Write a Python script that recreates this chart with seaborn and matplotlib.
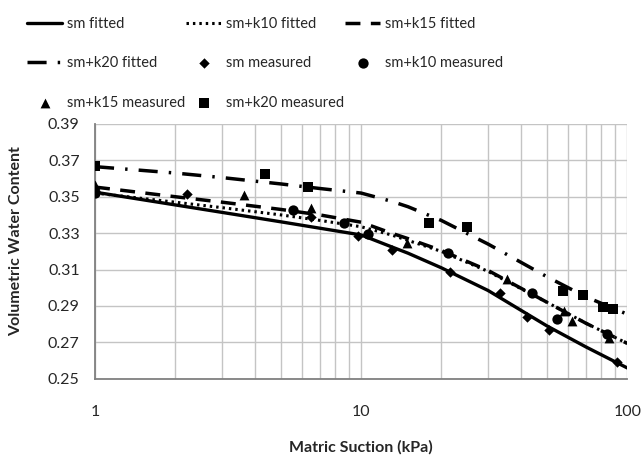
import matplotlib
matplotlib.use("Agg")
import matplotlib.pyplot as plt
import seaborn as sns
import numpy as np

# fitted curves
fit_x = [1, 2, 3, 5, 7, 10, 13, 15, 20, 30, 50, 70, 100]
sm_fit = [0.3525, 0.3455, 0.3414, 0.3362, 0.3327, 0.3290, 0.3225, 0.3190, 0.3110, 0.2985, 0.2790, 0.2675, 0.2560]
k10_fit = [0.3520, 0.3470, 0.3440, 0.3400, 0.3370, 0.3335, 0.3290, 0.3260, 0.3200, 0.3090, 0.2920, 0.2805, 0.2695]
k15_fit = [0.3553, 0.3500, 0.3470, 0.3430, 0.3400, 0.3360, 0.3300, 0.3270, 0.3205, 0.3095, 0.2920, 0.2805, 0.2695]
k20_fit = [0.3665, 0.3630, 0.3605, 0.3570, 0.3545, 0.3520, 0.3475, 0.3445, 0.3370, 0.3240, 0.3060, 0.2950, 0.2855]

# measured points
sm_x = [1, 2.22, 6.5, 9.7, 13.1, 21.6, 33.3, 42, 50.9, 91.7]
sm_y = [0.353, 0.3514, 0.339, 0.3285, 0.321, 0.3084, 0.2969, 0.2837, 0.2770, 0.2595]
k10_x = [1, 5.55, 8.63, 10.6, 21.2, 44, 54.6, 84]
k10_y = [0.352, 0.3426, 0.3355, 0.3294, 0.3189, 0.2969, 0.2826, 0.2748]
k15_x = [1, 3.63, 6.49, 14.9, 35.4, 58, 62, 85.6]
k15_y = [0.3564, 0.3509, 0.3437, 0.3244, 0.3046, 0.2870, 0.2815, 0.2726]
k20_x = [1, 4.36, 6.32, 18.0, 25, 57.5, 68.3, 81, 88.6]
k20_y = [0.3669, 0.3625, 0.3553, 0.3355, 0.3332, 0.2980, 0.2958, 0.2897, 0.2886]

y_ticks = [0.25, 0.27, 0.29, 0.31, 0.33, 0.35, 0.37, 0.39]

sns.set_style("white")
plt.rcParams["font.family"] = ["Lato", "DejaVu Sans"]
plt.rcParams["font.size"] = 11

fig, ax = plt.subplots(figsize=(6.42, 4.57), dpi=100)
fig.subplots_adjust(left=0.148, right=0.977, top=0.729, bottom=0.171)

sns.lineplot(x=fit_x, y=sm_fit, ax=ax, color="black", lw=2.4, label="sm fitted")
sns.lineplot(x=fit_x, y=k10_fit, ax=ax, color="black", lw=2.2,
             linestyle=(0, (0.8, 1.3)), label="sm+k10 fitted")
sns.lineplot(x=fit_x, y=k15_fit, ax=ax, color="black", lw=2.5,
             linestyle=(0, (4.3, 3.0)), label="sm+k15 fitted")
sns.lineplot(x=fit_x, y=k20_fit, ax=ax, color="black", lw=2.5,
             linestyle=(0, (5.5, 3.2, 0.7, 3.2)), label="sm+k20 fitted")

sns.scatterplot(x=sm_x, y=sm_y, ax=ax, color="black", marker="D", s=28,
                edgecolor="black", linewidth=0, label="sm measured", zorder=5)
sns.scatterplot(x=k10_x, y=k10_y, ax=ax, color="black", marker="o", s=55,
                edgecolor="black", linewidth=0, label="sm+k10 measured", zorder=5)
sns.scatterplot(x=k15_x, y=k15_y, ax=ax, color="black", marker="^", s=50,
                edgecolor="black", linewidth=0, label="sm+k15 measured", zorder=5)
sns.scatterplot(x=k20_x, y=k20_y, ax=ax, color="black", marker="s", s=50,
                edgecolor="black", linewidth=0, label="sm+k20 measured", zorder=5)

ax.set_xscale("log")
ax.set_xlim(1, 100)
ax.set_ylim(0.25, 0.39)
ax.set_yticks(y_ticks)
ax.set_yticklabels([f"{v:.2f}" for v in y_ticks])
ax.set_xticks([1, 10, 100])
ax.set_xticklabels(["1", "10", "100"])
ax.tick_params(axis="x", which="major", length=5, color="#808080", pad=14)
ax.tick_params(axis="x", which="minor", length=0)
ax.tick_params(axis="y", length=5, color="#808080", pad=6)
ax.tick_params(axis="both", labelsize=11.5)

ax.grid(True, which="major", axis="both", color="#c4c4c4", lw=1)
ax.grid(True, which="minor", axis="x", color="#c4c4c4", lw=1)
for side in ["top", "right"]:
    ax.spines[side].set_visible(False)
for side in ["left", "bottom"]:
    ax.spines[side].set_color("#808080")
    ax.spines[side].set_linewidth(1.3)

ax.set_xlabel("Matric Suction (kPa)", fontweight="bold", fontsize=11.5, labelpad=15)
ax.set_ylabel("Volumetric Water Content", fontweight="bold", fontsize=11.5)
ax.yaxis.set_label_coords(-0.135, 0.54)

# legend laid out row by row (matplotlib fills columns first)
handles, labels = ax.get_legend_handles_labels()
ax.get_legend().remove()
order = [0, 3, 6, 1, 4, 7, 2, 5]
fig.legend([handles[i] for i in order], [labels[i] for i in order],
           loc="upper left", bbox_to_anchor=(0.022, 0.992), ncol=3, frameon=False,
           fontsize=10.5, handlelength=2.4, handletextpad=0.3, columnspacing=0.1,
           labelspacing=1.75)

fig.savefig("out.png", dpi=100)
